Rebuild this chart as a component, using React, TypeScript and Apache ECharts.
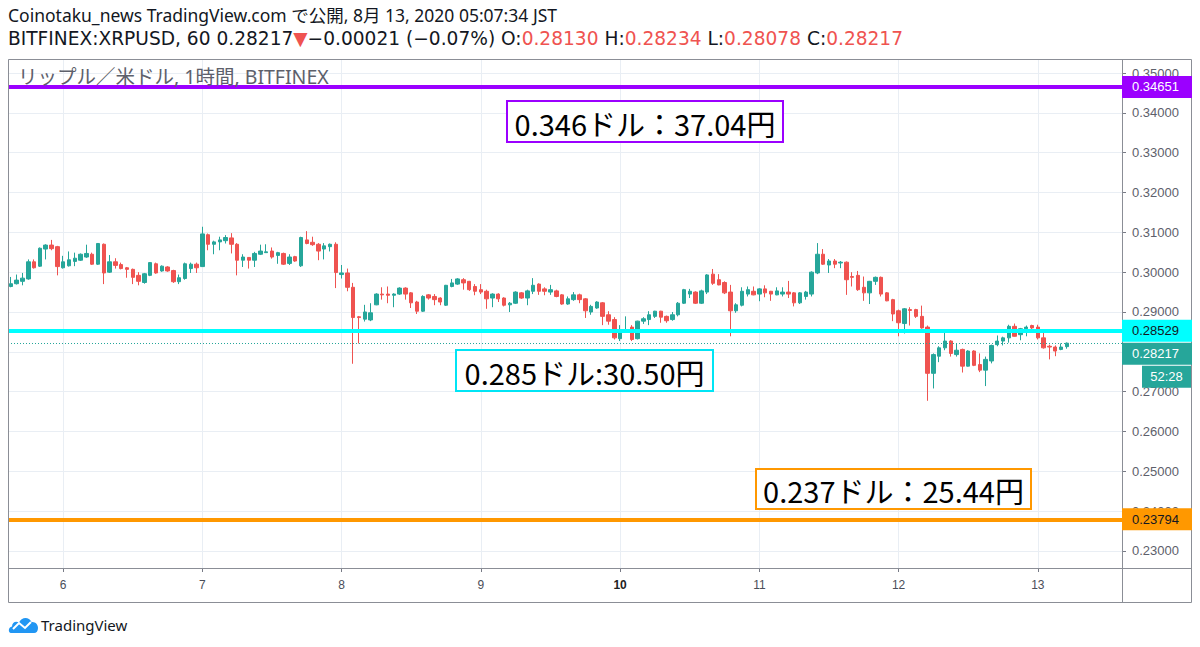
import React, { useEffect, useRef } from "react";
import * as echarts from "echarts";

// [open, high, low, close] hourly candles, 8/5 15:00 JST .. 8/13 05:00 JST
const candles: [number, number, number, number][] = [
  [0.2964, 0.2988, 0.2962, 0.2971], [0.2971, 0.2994, 0.2969, 0.298], [0.2977, 0.2998, 0.2967, 0.2985],
  [0.2983, 0.3032, 0.2981, 0.3026], [0.3026, 0.3032, 0.3009, 0.3011], [0.3015, 0.3062, 0.3013, 0.306],
  [0.3058, 0.307, 0.3032, 0.3068], [0.3068, 0.3081, 0.3055, 0.3059], [0.3064, 0.3066, 0.2992, 0.3014],
  [0.3011, 0.3041, 0.3009, 0.3026], [0.3016, 0.3052, 0.3014, 0.3031], [0.3027, 0.3049, 0.3015, 0.3035],
  [0.303, 0.3047, 0.3028, 0.3045], [0.3038, 0.3069, 0.3036, 0.3047], [0.3045, 0.3049, 0.3018, 0.302],
  [0.302, 0.3073, 0.3018, 0.3072], [0.307, 0.3072, 0.297, 0.2998], [0.3, 0.3043, 0.2998, 0.3026],
  [0.3026, 0.3035, 0.3009, 0.3017], [0.3019, 0.3024, 0.3007, 0.3009], [0.3011, 0.3013, 0.2986, 0.3007],
  [0.3007, 0.3009, 0.297, 0.2987], [0.2992, 0.3, 0.2967, 0.2977], [0.2974, 0.2998, 0.2971, 0.2996],
  [0.2992, 0.3025, 0.299, 0.3024], [0.3021, 0.3024, 0.2996, 0.2998], [0.3003, 0.3017, 0.3001, 0.3015],
  [0.3013, 0.3015, 0.3001, 0.3003], [0.3004, 0.3006, 0.2973, 0.2976], [0.2976, 0.2994, 0.297, 0.2986],
  [0.2984, 0.3024, 0.2981, 0.3021], [0.3009, 0.3024, 0.2998, 0.302], [0.302, 0.3024, 0.2998, 0.3011],
  [0.3014, 0.3114, 0.3013, 0.3096], [0.3094, 0.3097, 0.3055, 0.307], [0.307, 0.3079, 0.3045, 0.3076],
  [0.3076, 0.3089, 0.3055, 0.3081], [0.3079, 0.3093, 0.3072, 0.3087], [0.3086, 0.3098, 0.3047, 0.307],
  [0.307, 0.3073, 0.2992, 0.303], [0.303, 0.3045, 0.3013, 0.3038], [0.3037, 0.3038, 0.3009, 0.303],
  [0.303, 0.3051, 0.3013, 0.3047], [0.3045, 0.3069, 0.3043, 0.3053], [0.3049, 0.307, 0.3049, 0.3051],
  [0.3053, 0.3062, 0.3034, 0.3038], [0.3042, 0.3051, 0.3021, 0.3049], [0.3047, 0.3049, 0.3018, 0.302],
  [0.3022, 0.3045, 0.3018, 0.3038], [0.3039, 0.3041, 0.3026, 0.3028], [0.3016, 0.3089, 0.3013, 0.3087],
  [0.3081, 0.3103, 0.307, 0.3072], [0.3075, 0.3089, 0.3066, 0.3069], [0.307, 0.3073, 0.303, 0.3053],
  [0.3058, 0.3073, 0.3032, 0.3066], [0.3064, 0.3072, 0.3052, 0.307], [0.307, 0.3075, 0.296, 0.2999],
  [0.2994, 0.3018, 0.2984, 0.2998], [0.2998, 0.3009, 0.2952, 0.2962], [0.2962, 0.2973, 0.277, 0.2886],
  [0.2888, 0.289, 0.2821, 0.2886], [0.2882, 0.2918, 0.2876, 0.29], [0.288, 0.2922, 0.2877, 0.2898],
  [0.2918, 0.2947, 0.2917, 0.2945], [0.2945, 0.2962, 0.2931, 0.2943], [0.2945, 0.2964, 0.2922, 0.2942],
  [0.2942, 0.2947, 0.2912, 0.2945], [0.2945, 0.2962, 0.2943, 0.296], [0.296, 0.2962, 0.2931, 0.2945],
  [0.2948, 0.295, 0.291, 0.2923], [0.2925, 0.2928, 0.2895, 0.2902], [0.2902, 0.2942, 0.29, 0.2939],
  [0.2943, 0.2945, 0.2931, 0.2935], [0.2939, 0.2945, 0.2917, 0.2931], [0.2935, 0.2937, 0.2917, 0.2925],
  [0.2917, 0.2968, 0.2915, 0.2967], [0.2964, 0.2983, 0.2962, 0.2973], [0.297, 0.2985, 0.2968, 0.2983],
  [0.2981, 0.2985, 0.2956, 0.2973], [0.2977, 0.2978, 0.2953, 0.2956], [0.2964, 0.297, 0.2942, 0.2952],
  [0.2956, 0.297, 0.2945, 0.295], [0.2952, 0.2956, 0.2908, 0.2933], [0.2935, 0.2947, 0.2912, 0.2945],
  [0.2945, 0.2947, 0.2925, 0.2933], [0.2935, 0.2937, 0.2914, 0.2917], [0.2918, 0.2925, 0.29, 0.2922],
  [0.2922, 0.2952, 0.292, 0.295], [0.2948, 0.295, 0.2933, 0.2935], [0.2935, 0.2956, 0.2917, 0.2953],
  [0.2952, 0.2985, 0.2945, 0.2967], [0.297, 0.2972, 0.2943, 0.2952], [0.2958, 0.2962, 0.2942, 0.2952],
  [0.295, 0.2968, 0.2943, 0.2956], [0.2953, 0.2956, 0.2937, 0.2939], [0.2943, 0.2945, 0.2918, 0.292],
  [0.292, 0.2939, 0.2918, 0.2933], [0.2931, 0.295, 0.2928, 0.2943], [0.2943, 0.2946, 0.2922, 0.2931],
  [0.2933, 0.2935, 0.2885, 0.2903], [0.29, 0.2918, 0.2893, 0.2914], [0.291, 0.2927, 0.2908, 0.2925],
  [0.2923, 0.2925, 0.2867, 0.2889], [0.2893, 0.2902, 0.2868, 0.2877], [0.2881, 0.2887, 0.2831, 0.2835],
  [0.2833, 0.2867, 0.2827, 0.2852], [0.285, 0.2889, 0.285, 0.2856], [0.2862, 0.2867, 0.2827, 0.2831],
  [0.2833, 0.2878, 0.2831, 0.2877], [0.2877, 0.2887, 0.287, 0.2883], [0.2881, 0.2902, 0.2867, 0.2893],
  [0.2889, 0.2903, 0.2885, 0.2902], [0.2902, 0.2903, 0.2873, 0.2887], [0.2889, 0.2891, 0.2873, 0.2878],
  [0.2881, 0.29, 0.2878, 0.2893], [0.2893, 0.2925, 0.2889, 0.2922], [0.2922, 0.2958, 0.292, 0.2956],
  [0.2945, 0.2958, 0.2935, 0.2952], [0.295, 0.2952, 0.292, 0.2922], [0.2922, 0.2956, 0.292, 0.2953],
  [0.295, 0.2995, 0.2945, 0.2993], [0.2995, 0.3008, 0.2968, 0.2972], [0.2981, 0.2995, 0.2967, 0.2968],
  [0.2974, 0.2977, 0.2945, 0.2948], [0.295, 0.2968, 0.2839, 0.2903], [0.2903, 0.2922, 0.2898, 0.2918],
  [0.2917, 0.2962, 0.2914, 0.2952], [0.2945, 0.2964, 0.2939, 0.2956], [0.2952, 0.2964, 0.2942, 0.2943],
  [0.2945, 0.296, 0.2927, 0.2958], [0.2958, 0.2967, 0.2937, 0.2948], [0.2952, 0.2953, 0.2928, 0.2945],
  [0.2943, 0.2962, 0.2942, 0.2953], [0.2945, 0.2962, 0.2939, 0.295], [0.295, 0.2978, 0.2935, 0.2945],
  [0.2948, 0.295, 0.2914, 0.2923], [0.2923, 0.295, 0.292, 0.2948], [0.2939, 0.2953, 0.2931, 0.295],
  [0.2945, 0.3002, 0.2939, 0.3], [0.2998, 0.3073, 0.2995, 0.3045], [0.3045, 0.3058, 0.3018, 0.302],
  [0.3018, 0.3033, 0.2998, 0.3028], [0.3028, 0.3033, 0.301, 0.302], [0.3023, 0.3028, 0.301, 0.3025],
  [0.3025, 0.3027, 0.2943, 0.2981], [0.2989, 0.3, 0.2964, 0.2987], [0.2992, 0.3003, 0.2953, 0.2956],
  [0.2962, 0.2989, 0.2928, 0.2948], [0.2948, 0.2978, 0.292, 0.2977], [0.2977, 0.2989, 0.2968, 0.2987],
  [0.2987, 0.2989, 0.2939, 0.2945], [0.2948, 0.295, 0.2927, 0.2928], [0.2931, 0.2933, 0.2877, 0.2895],
  [0.2903, 0.2906, 0.2839, 0.2873], [0.2871, 0.291, 0.2846, 0.2908], [0.2906, 0.2912, 0.2866, 0.2904],
  [0.2906, 0.2908, 0.2885, 0.2889], [0.2889, 0.2916, 0.2858, 0.286], [0.2862, 0.2866, 0.2677, 0.2746],
  [0.2746, 0.2796, 0.2708, 0.2793], [0.2789, 0.2814, 0.2774, 0.281], [0.281, 0.2848, 0.2804, 0.2827],
  [0.2827, 0.2829, 0.2788, 0.2796], [0.2793, 0.2822, 0.2788, 0.2804], [0.2806, 0.2808, 0.2748, 0.2764],
  [0.2764, 0.2804, 0.2763, 0.2802], [0.2802, 0.2804, 0.2764, 0.2766], [0.2768, 0.2796, 0.2749, 0.2754],
  [0.2754, 0.2788, 0.2714, 0.2781], [0.2777, 0.2818, 0.2771, 0.2816], [0.2818, 0.2841, 0.2814, 0.2827],
  [0.2827, 0.2838, 0.2816, 0.2835], [0.2835, 0.2868, 0.2823, 0.2864], [0.2864, 0.2871, 0.2838, 0.2839],
  [0.2843, 0.286, 0.2829, 0.2858], [0.2858, 0.2866, 0.2839, 0.2862], [0.2866, 0.2868, 0.2848, 0.286],
  [0.2862, 0.2868, 0.2831, 0.2835], [0.2835, 0.2852, 0.2808, 0.281], [0.2814, 0.2818, 0.2781, 0.2812],
  [0.2812, 0.2816, 0.2789, 0.2802], [0.2806, 0.2821, 0.2804, 0.2812], [0.2813, 0.28234, 0.28078, 0.28217],
];

const START_DAY = 5; // August 5
const START_HOUR = 15; // 15:00 JST
const TOTAL_SLOTS = 192; // candles + empty space to the right
const categories: string[] = [];
for (let i = 0; i < TOTAL_SLOTS; i++) {
  const t = START_HOUR + i;
  const d = START_DAY + Math.floor(t / 24);
  const h = t % 24;
  categories.push(`8/${d} ${String(h).padStart(2, "0")}:00`);
}
const boldDay = "10";

// horizontal levels
const levelPurple = 0.34651;
const levelCyan = 0.28529;
const levelOrange = 0.23794;
const lastPrice = 0.28217;
const countdown = "52:28";

const Y_MIN = 0.22572;
const Y_MAX = 0.35352;

const annotations = [
  { text: "0.346ドル：37.04円", color: "#9b00ff" },
  { text: "0.285ドル:30.50円", color: "#00e5f5" },
  { text: "0.237ドル：25.44円", color: "#ff9800" },
];

const UP = "#26a69a";
const DOWN = "#ef5350";
const PURPLE = "#9b00ff";
const CYAN = "#00ffff";
const ORANGE = "#ff9800";
const LATIN = "'Noto Sans', 'Noto Sans CJK JP', sans-serif";
const WIDE = "'DejaVu Sans', sans-serif";
const AXISFONT = "'Liberation Sans', Arial, sans-serif";

function isMidnight(index: number) {
  return (START_HOUR + index) % 24 === 0 && index < candles.length;
}

export default function App() {
  const ref = useRef<HTMLDivElement>(null);
  useEffect(() => {
    if (!ref.current) return;
    const chart = echarts.init(ref.current, null, { renderer: "svg" });
    const midnightCats = categories.filter((_, i) => isMidnight(i));
    chart.setOption({
      animation: false,
      backgroundColor: "#ffffff",
      grid: { left: 8, right: 78, top: 59, bottom: 79, containLabel: false },
      xAxis: {
        type: "category",
        data: categories,
        boundaryGap: true,
        axisLine: { show: false },
        axisTick: {
          show: true,
          alignWithLabel: true,
          interval: (i: number) => isMidnight(i),
          length: 4,
          lineStyle: { color: "#787b86" },
        },
        axisLabel: {
          interval: (i: number) => isMidnight(i),
          formatter: (v: string) => {
            const day = v.split(" ")[0].split("/")[1];
            return day === boldDay ? `{b|${day}}` : day;
          },
          color: "#4a4e59",
          fontSize: 12,
          fontFamily: AXISFONT,
          margin: 11,
          rich: { b: { fontWeight: "bold", color: "#222", fontSize: 12, fontFamily: AXISFONT } },
        },
        splitLine: { show: false },
      },
      yAxis: {
        type: "value",
        position: "right",
        min: Y_MIN,
        max: Y_MAX,
        splitNumber: 12,
        minInterval: 0.01,
        maxInterval: 0.01,
        axisLine: { show: false },
        axisTick: { show: true, length: 4, lineStyle: { color: "#787b86" } },
        axisLabel: {
          showMinLabel: false,
          showMaxLabel: false,
          margin: 10,
          color: "#5d606b",
          fontSize: 13,
          fontFamily: AXISFONT,
          formatter: (v: number) =>
            Math.abs(v * 100 - Math.round(v * 100)) < 1e-6 ? v.toFixed(5) : "",
        },
        splitLine: { show: true, lineStyle: { color: "#e9eef4", width: 1 } },
      },
      series: [
        {
          type: "line",
          data: [],
          silent: true,
          markLine: {
            z: 1,
            silent: true,
            symbol: ["none", "none"],
            label: { show: false },
            lineStyle: { color: "#e9eef4", width: 1, type: "solid" },
            data: midnightCats.map((c) => ({ xAxis: c })),
          },
        },
        {
          type: "candlestick",
          z: 2,
          barWidth: "68%",
          data: candles.map(([o, h, l, c]) => [o, c, l, h]),
          itemStyle: { color: UP, color0: DOWN, borderColor: UP, borderColor0: DOWN, borderWidth: 1 },
          markLine: {
            z: 5,
            silent: true,
            precision: 5,
            symbol: ["none", "none"],
            label: { show: false },
            data: [
              { yAxis: lastPrice, lineStyle: { color: UP, width: 1, type: [1, 2] } },
              { yAxis: levelPurple, lineStyle: { color: PURPLE, width: 4, type: "solid" } },
              { yAxis: levelCyan, lineStyle: { color: CYAN, width: 4, type: "solid" } },
              { yAxis: levelOrange, lineStyle: { color: ORANGE, width: 4, type: "solid" } },
            ],
          },
        },
      ],
    });

    const py = (v: number) => chart.convertToPixel({ yAxisIndex: 0 }, v) as number;
    const priceBox = (v: number, y: number, fill: string, textColor: string, id: string) => [
      { type: "rect", id: id + "r", z: 100, shape: { x: 1122, y: y - 11, width: 70, height: 22 }, style: { fill } },
      {
        type: "text", id: id + "t", z: 101, x: 1132, y,
        style: { text: v.toFixed(5), fill: textColor, fontSize: 13, fontFamily: AXISFONT, verticalAlign: "middle", align: "left" },
      },
    ];
    const cy = py(levelCyan);
    const tealY = cy + 23;
    const last = candles[candles.length - 1];
    const annBoxes = [
      { x: 507, y: 101, w: 276, h: 41 },
      { x: 456, y: 350, w: 257, h: 41 },
      { x: 756, y: 469, w: 275, h: 40 },
    ];
    const hd = { fill: "#131722", fontSize: 18.6, fontFamily: WIDE };
    const hr = { fill: DOWN, fontSize: 18.6, fontFamily: WIDE };
    const graphics: any[] = [
      // header
      {
        type: "text", x: 8, y: 15, z: 100,
        style: {
          text: "Coinotaku_news TradingView.com で公開, 8月 13, 2020 05:07:34 JST",
          fill: "#131722", fontSize: 17.5, fontFamily: LATIN, verticalAlign: "middle",
        },
      },
      {
        type: "text", x: 8, y: 38, z: 100,
        style: {
          text:
            `{d|BITFINEX:XRPUSD, 60 ${last[3].toFixed(5)}}{r|▼}{d|−0.00021 (−0.07%) O:}{r|${last[0].toFixed(5)}}` +
            `{d| H:}{r|${last[1].toFixed(5)}}{d| L:}{r|${last[2].toFixed(5)}}{d| C:}{r|${last[3].toFixed(5)}}`,
          verticalAlign: "middle",
          fontSize: 18.6,
          fontFamily: WIDE,
          rich: { d: hd, r: hr },
        },
      },
      {
        type: "text", x: 18, y: 76, z: 100,
        style: { text: "リップル／米ドル, 1時間, BITFINEX", fill: "#5d606b", fontSize: 19.5, fontFamily: LATIN, verticalAlign: "middle" },
      },
      // frame
      { type: "rect", z: 90, shape: { x: 8.5, y: 59.5, width: 1183, height: 543 }, style: { fill: "none", stroke: "#8b8e96", lineWidth: 1 } },
      { type: "line", z: 90, shape: { x1: 1122.5, y1: 59, x2: 1122.5, y2: 603 }, style: { stroke: "#8b8e96", lineWidth: 1 } },
      { type: "line", z: 90, shape: { x1: 8, y1: 568.5, x2: 1192, y2: 568.5 }, style: { stroke: "#8b8e96", lineWidth: 1 } },
      ...priceBox(levelPurple, py(levelPurple), PURPLE, "#ffffff", "p"),
      ...priceBox(levelCyan, cy, CYAN, "#131722", "c"),
      ...priceBox(levelOrange, py(levelOrange), ORANGE, "#131722", "o"),
      ...priceBox(lastPrice, tealY, UP, "#ffffff", "l"),
      { type: "rect", z: 100, shape: { x: 1142, y: tealY + 12, width: 49, height: 22 }, style: { fill: UP } },
      {
        type: "text", z: 101, x: 1166.5, y: tealY + 23,
        style: { text: countdown, fill: "#ffffff", fontSize: 13, fontFamily: AXISFONT, align: "center", verticalAlign: "middle" },
      },
      // annotation boxes
      ...annotations.flatMap((a, i) => {
        const b = annBoxes[i];
        return [
          { type: "rect", z: 95, shape: { x: b.x, y: b.y, width: b.w, height: b.h }, style: { fill: "#ffffff", stroke: a.color, lineWidth: 2 } },
          {
            type: "text", z: 96, x: b.x + b.w / 2, y: b.y + b.h / 2 + 1,
            style: { text: a.text, fill: "#000000", fontSize: 29, fontFamily: "'Noto Sans CJK JP', sans-serif", align: "center", verticalAlign: "middle" },
          },
        ];
      }),
      // TradingView logo
      { type: "tvcloud", z: 100, x: 8, y: 615, scaleX: 1, scaleY: 1, style: { fill: "#2196f3" } },
      { type: "polyline", z: 101, shape: { points: [[13, 629], [19, 623], [25, 628], [31, 622]] }, style: { stroke: "#ffffff", lineWidth: 2, fill: "none" } },
      {
        type: "text", z: 100, x: 41, y: 625,
        style: { text: "TradingView", fill: "#131722", fontSize: 15, fontFamily: LATIN, verticalAlign: "middle" },
      },
    ];
    chart.setOption({ graphic: graphics });
    return () => chart.dispose();
  }, []);
  return (
    <div
      ref={ref}
      style={{ position: "fixed", left: 0, top: 0, width: 1200, height: 647, background: "#fff" }}
    />
  );
}

echarts.graphic.registerShape(
  "tvcloud",
  echarts.graphic.extendPath(
    "M3 18 C0 18 0 12 4 11.5 C4 7 8 5.5 11 7.5 C13 2 21 1 23.5 7 C27.5 6.5 30 9.5 30 13 C30 16 28.5 18 26 18 Z",
    {}
  ) as any
);
